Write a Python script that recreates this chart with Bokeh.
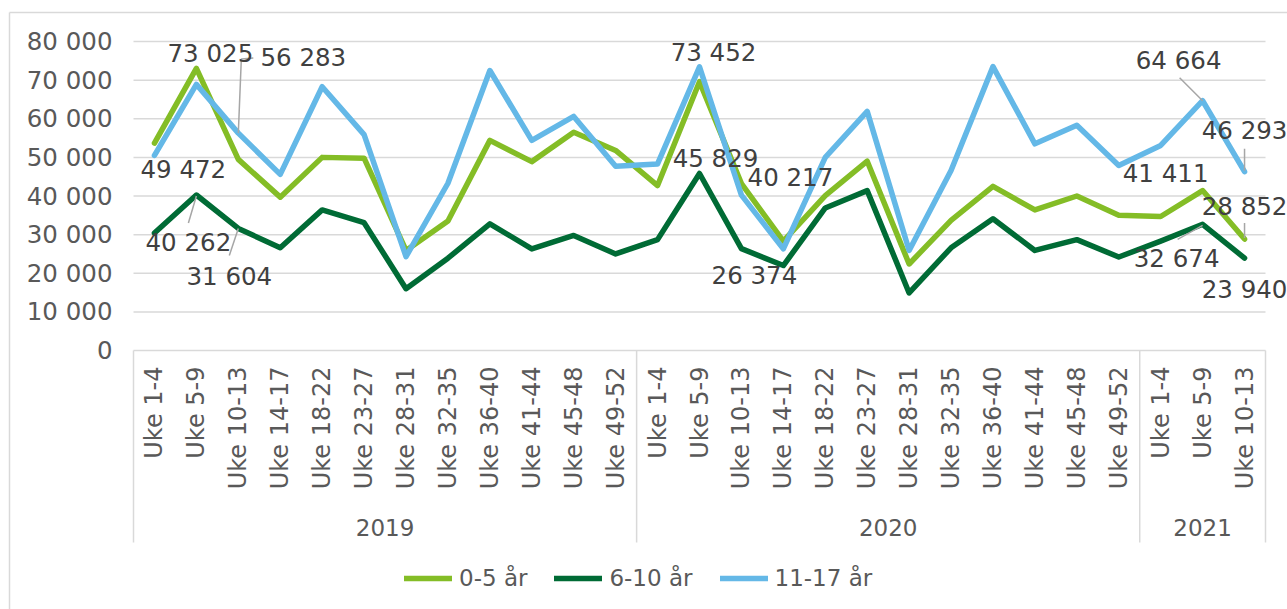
import math
from bokeh.plotting import figure
from bokeh.models import (Range1d, FixedTicker, CustomJSTickFormatter, ColumnDataSource,
                          Legend, LegendItem)
from bokeh.core.properties import value
from bokeh.embed import file_html
from bokeh.resources import INLINE

# ---------------- data ----------------
weeks = ["Uke 1-4", "Uke 5-9", "Uke 10-13", "Uke 14-17", "Uke 18-22", "Uke 23-27",
         "Uke 28-31", "Uke 32-35", "Uke 36-40", "Uke 41-44", "Uke 45-48", "Uke 49-52",
         "Uke 1-4", "Uke 5-9", "Uke 10-13", "Uke 14-17", "Uke 18-22", "Uke 23-27",
         "Uke 28-31", "Uke 32-35", "Uke 36-40", "Uke 41-44", "Uke 45-48", "Uke 49-52",
         "Uke 1-4", "Uke 5-9", "Uke 10-13"]
years = ["2019"] * 12 + ["2020"] * 12 + ["2021"] * 3

series_names = ["0-5 år", "6-10 år", "11-17 år"]
y_0_5 = [53700, 73025, 49472, 39700, 50000, 49800, 25900, 33500, 54400, 48900, 56500, 51800,
         42700, 69600, 43200, 28300, 40100, 49000, 22400, 33700, 42500, 36400, 40000, 35000,
         34700, 41411, 28852]
y_6_10 = [30400, 40262, 31604, 26600, 36400, 33100, 16000, 23900, 32800, 26300, 29800, 25000,
          28700, 45829, 26374, 22000, 36900, 41400, 14900, 26600, 34100, 25900, 28700, 24200,
          28300, 32674, 23940]
y_11_17 = [50500, 68900, 56283, 45600, 68300, 55900, 24300, 43300, 72500, 54400, 60600, 47700,
           48300, 73452, 40217, 26300, 50000, 61900, 25900, 46600, 73500, 53500, 58300, 47900,
           53100, 64664, 46293]
y_ticks = [0, 10000, 20000, 30000, 40000, 50000, 60000, 70000, 80000]

# labelled points: (series index, category index)
label_series = [0, 0, 2, 1, 1, 2, 1, 2, 1, 2, 2, 0, 0, 1, 1]
label_cat = [1, 2, 2, 1, 2, 13, 13, 14, 14, 25, 26, 25, 26, 25, 26]

# ---------------- styles / layout ----------------
colors = ["#84BD26", "#006B35", "#64B8E7"]
FONT = "DejaVu Sans"
AXIS_COL = "#595959"
LBL_COL = "#404040"
GRID_COL = "#D9D9D9"

# label centre offsets (px, screen) relative to their point
label_offsets = [(14, -15), (-55, 10), (65, -76), (-8, 48), (-9, 48), (14, -14), (16, -15),
                 (49, -18), (13, 27), (-24, -40), (0, -41), (-37, -17), (0, -33), (-26, 34),
                 (0, 31)]
# leader lines: label number -> list of px offsets from point
leaders = {2: [(0, 0), (3, -74), (15, -75)],
           3: [(0, 1), (-8, 28)],
           4: [(0, 0), (-9, 27)],
           9: [(0, 0), (-23, -23)],
           10: [(0, -1), (0, -23)],
           12: [(0, -1), (0, -16)],
           13: [(0, 1), (-25, 15)]}

PAGE_L, PAGE_T = 0, 0
W, H = 1287, 609
AX_LEFT_PX, AX_RIGHT_PX = 133, 1265
Y0_PX, YMAX_PX = 350, 41
SEP_BOTTOM_PX = 542
YEAR_PX = 527
BORDER_X_PX, BORDER_Y_PX = 9, 12

n = len(weeks)
CW = (AX_RIGHT_PX - AX_LEFT_PX) / n
PY = (Y0_PX - YMAX_PX) / y_ticks[-1]


def dxd(px):
    return px / CW


def dyd(px):
    return -px / PY


def ypx(py):
    return (Y0_PX - py) / PY


def xpx(px):
    return (px - AX_LEFT_PX) / CW


x_start, x_end = xpx(PAGE_L), xpx(PAGE_L + W)
y_start, y_end = ypx(PAGE_T + H), ypx(PAGE_T)

p = figure(width=W, height=H, output_backend="svg", toolbar_location=None,
           x_range=Range1d(x_start, x_end), y_range=Range1d(y_start, y_end),
           min_border=0, min_border_left=0, min_border_right=0, min_border_top=0,
           min_border_bottom=0)
p.outline_line_color = None
p.xgrid.visible = False
p.ygrid.visible = False
p.background_fill_color = "white"
p.border_fill_color = "white"

xs = [i + 0.5 for i in range(n)]

# outer chart border (left and top)
bx = xpx(BORDER_X_PX)
by = ypx(BORDER_Y_PX)
p.segment(x0=[bx, bx], y0=[y_start, by], x1=[bx, x_end], y1=[by, by],
          line_color=GRID_COL, line_width=1.5)

# gridlines
p.segment(x0=[0] * len(y_ticks), x1=[n] * len(y_ticks), y0=y_ticks, y1=y_ticks,
          line_color=GRID_COL, line_width=1.5)

# group separators
bounds = [0] + [i for i in range(1, n) if years[i] != years[i - 1]] + [n]
p.segment(x0=bounds, x1=bounds, y0=[0] * len(bounds), y1=[ypx(SEP_BOTTOM_PX)] * len(bounds),
          line_color=GRID_COL, line_width=1.5)

# year labels
groups = []
for a, b in zip(bounds[:-1], bounds[1:]):
    groups.append(((a + b) / 2, years[a]))
p.text(x=[g[0] for g in groups], y=[ypx(YEAR_PX)] * len(groups), text=[g[1] for g in groups],
       text_font=value(FONT), text_font_size="23px", text_color=AXIS_COL,
       text_align="center", text_baseline="middle")

# series lines
all_series = [y_0_5, y_6_10, y_11_17]
renderers = []
for vals, col in zip(all_series, colors):
    r = p.line(x=xs, y=vals, line_color=col, line_width=5.5, line_join="round", line_cap="round")
    renderers.append(r)

# leader lines
lx, ly = [], []
for k, pts in leaders.items():
    s, c = label_series[k], label_cat[k]
    v = all_series[s][c]
    lx.append([xs[c] + dxd(ox) for ox, oy in pts])
    ly.append([v + dyd(oy) for ox, oy in pts])
p.multi_line(xs=lx, ys=ly, line_color="#A6A6A6", line_width=1.5)

# data labels
lab_x, lab_y, lab_t = [], [], []
for s, c in zip(label_series, label_cat):
    v = all_series[s][c]
    lab_x.append(xs[c])
    lab_y.append(v)
    lab_t.append(f"{v:,}".replace(",", " "))
src = ColumnDataSource(dict(x=lab_x, y=lab_y, text=lab_t,
                            xo=[o[0] for o in label_offsets], yo=[o[1] for o in label_offsets]))
p.text(x="x", y="y", text="text", x_offset="xo", y_offset="yo", source=src,
       text_font=value(FONT), text_font_size="24.5px", text_color=LBL_COL,
       text_align="center", text_baseline="middle")

# axes
yax = p.yaxis[0]
yax.fixed_location = 0
yax.ticker = FixedTicker(ticks=y_ticks)
yax.formatter = CustomJSTickFormatter(
    code="return tick.toFixed(0).replace(/\\B(?=(\\d{3})+(?!\\d))/g, ' ');")
yax.axis_line_color = None
yax.major_tick_line_color = None
yax.minor_tick_line_color = None
yax.major_tick_out = 0
yax.major_label_standoff = 21
yax.major_label_text_font = FONT
yax.major_label_text_font_size = "24.5px"
yax.major_label_text_color = AXIS_COL

xax = p.xaxis[0]
xax.fixed_location = 0
xax.ticker = FixedTicker(ticks=xs)
xax.formatter = CustomJSTickFormatter(args=dict(labels=weeks),
                                      code="return labels[Math.round(tick - 0.5)];")
xax.axis_line_color = None
xax.major_tick_line_color = None
xax.minor_tick_line_color = None
xax.major_tick_out = 0
xax.major_label_orientation = math.pi / 2
xax.major_label_standoff = 16
xax.major_label_text_font = FONT
xax.major_label_text_font_size = "24px"
xax.major_label_text_color = AXIS_COL

# legend
legend = Legend(items=[LegendItem(label=nm, renderers=[r]) for nm, r in zip(series_names, renderers)],
                orientation="horizontal", location=(404, 18), glyph_width=48, glyph_height=24,
                label_standoff=7, spacing=27, padding=0, margin=0,
                border_line_color=None, background_fill_alpha=0,
                label_text_font=FONT, label_text_font_size="23px", label_text_color=AXIS_COL)
p.add_layout(legend)

open("out.html", "w").write(file_html(p, INLINE))
